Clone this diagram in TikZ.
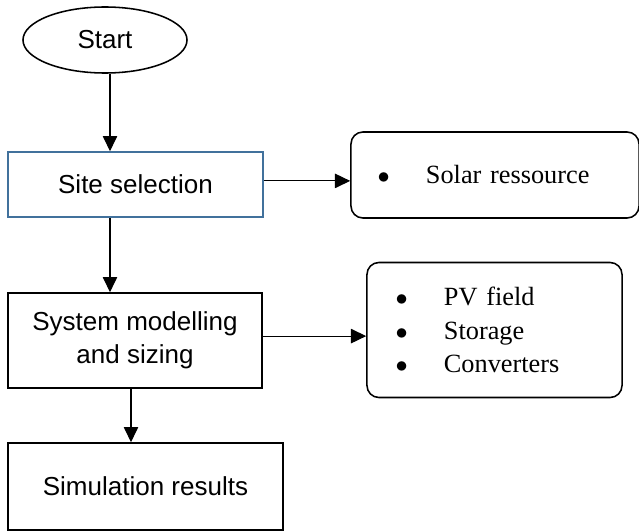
\documentclass[tikz,border=0pt]{standalone}
\usepackage{fontspec}
\setmainfont{Liberation Serif}
\setsansfont{Liberation Sans}
\usepackage{xcolor}
\usetikzlibrary{shapes,arrows.meta}
\definecolor{siteblue}{HTML}{41719C}
\tikzset{
	box/.style={draw,rectangle,line width=1.1pt,inner sep=0pt,align=center,font=\sffamily\fontsize{18.5}{23.5}\selectfont},
	rbox/.style={draw,rectangle,rounded corners=0.3cm,line width=1.1pt,inner ysep=0pt,align=left,font=\rmfamily\fontsize{18.7}{23.8}\selectfont},
	flow/.style={-{Triangle[length=0.38cm,width=0.36cm]},line width=0.8pt}
}
\newcommand{\itm}[1]{\makebox[33.4pt][l]{\hspace{-1pt}$\bullet$}#1}

\begin{document}
\begin{tikzpicture}[x=0.025cm,y=-0.025cm]
		\useasboundingbox (0,0) rectangle (639,532);
		\node[draw,ellipse,line width=1.1pt,inner sep=0pt,minimum width=4.1cm,minimum height=1.65cm,font=\sffamily\fontsize{18.5}{23.5}\selectfont] (start) at (105,40) {Start};
		\node[box,draw=siteblue,minimum width=6.375cm,minimum height=1.625cm] (site) at (135.5,184.5) {Site selection};
		\node[box,minimum width=6.35cm,minimum height=2.375cm] (sys) at (135,340.5) {System modelling\\and sizing};
		\node[box,minimum width=6.875cm,minimum height=2.175cm] (res) at (145.5,486.5) {Simulation results};
		\node[rbox,minimum height=2.15cm,text width=5.8cm,inner xsep=0.7cm] (solar) at (495,175) {\itm{Solar ressource}};
		\node[rbox,minimum height=3.375cm,text width=4.875cm,inner xsep=0.75cm] (pv) at (494.5,330) {\itm{PV field}\\\itm{Storage}\\\itm{Converters}};
		%
		\path[flow]
		([xshift=0.125cm]start.south) edge ([xshift=0.125cm]start.south |- site.north)
		([xshift=-0.6375cm]site.south) edge ([xshift=-0.6375cm]site.south |- sys.north)
		([xshift=-0.1cm]sys.south) edge ([xshift=-0.1cm]sys.south |- res.north)
		([yshift=0.09cm]site.east) edge ([yshift=0.09cm]site.east -| solar.west)
		([yshift=0.11cm]sys.east) edge ([yshift=0.11cm]sys.east -| pv.west);
\end{tikzpicture}
\end{document}
